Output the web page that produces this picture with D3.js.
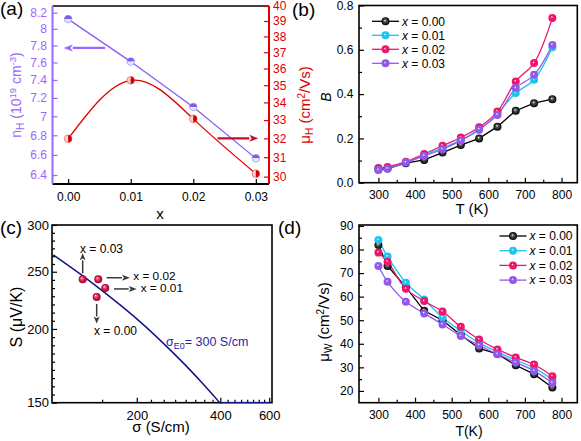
<!DOCTYPE html>
<html><head><meta charset="utf-8">
<script src="https://cdn.jsdelivr.net/npm/d3@7"></script>
<style>body{margin:0;background:#fff;} svg text{font-family:'Liberation Sans',Arial,sans-serif;}</style>
</head><body><svg id="c" width="581" height="441"></svg>
<script>
// ---------- DATA ----------
// (a)
const xA = [0.00, 0.01, 0.02, 0.03];
const nH = [8.12, 7.61, 7.10, 6.565];
const muH = [31.98, 35.29, 33.07, 30.15];
const xTicksA = [0, 0.01, 0.02, 0.03];
const nTicks = [6.4, 6.6, 6.8, 7, 7.2, 7.4, 7.6, 7.8, 8, 8.2];
const muTicks = [30, 31, 32, 33, 34, 35, 36, 37, 38, 39, 40];
// (b), (d)
const T = [300, 325, 375, 425, 475, 525, 575, 625, 675, 725, 775];
const seriesLabels = ["0.00", "0.01", "0.02", "0.03"];
const B00 = [0.060, 0.064, 0.088, 0.103, 0.136, 0.170, 0.200, 0.253, 0.325, 0.359, 0.377];
const B01 = [0.065, 0.068, 0.092, 0.124, 0.157, 0.192, 0.238, 0.312, 0.405, 0.465, 0.612];
const B02 = [0.066, 0.071, 0.095, 0.130, 0.167, 0.204, 0.250, 0.321, 0.457, 0.540, 0.744];
const B03 = [0.057, 0.063, 0.091, 0.121, 0.151, 0.190, 0.241, 0.306, 0.427, 0.487, 0.622];
const MU00 = [81.9, 73.0, 64.0, 54.0, 50.0, 43.7, 38.0, 35.7, 30.9, 27.1, 21.45];
const MU01 = [84.0, 77.0, 65.9, 58.8, 51.2, 45.5, 40.4, 36.6, 33.05, 29.8, 24.85];
const MU02 = [78.7, 74.8, 63.3, 58.1, 53.7, 47.2, 41.8, 37.6, 34.2, 31.2, 26.25];
const MU03 = [73.0, 66.3, 57.8, 52.9, 48.2, 43.3, 39.4, 35.6, 32.1, 28.5, 23.4];
const tTicks = [300, 400, 500, 600, 700, 800];
const tMinor = [350, 450, 550, 650, 750];
const bTicks = [0.0, 0.2, 0.4, 0.6, 0.8];
const bMinor = [0.1, 0.3, 0.5, 0.7];
const muTicksD = [20, 30, 40, 50, 60, 70, 80, 90];
const muMinorD = [25, 35, 45, 55, 65, 75, 85];
// (c)
const sigmaCurve = [100, 125, 150, 175, 200, 250, 300, 350, 400, 500, 600];
const Scurve = [267.1, 247.9, 232.2, 219.2, 208.0, 188.9, 173.5, 160.6, 149.6, 131.5, 117.1];
const ptLabels = ["x = 0.00", "x = 0.01", "x = 0.02", "x = 0.03"];
const sigmaPts = [143.4, 154.0, 145.3, 127.7];
const Spts = [226.6, 234.7, 242.7, 242.7];
const sigTicks = [200, 400, 600];
const sigMinor = [150, 225, 250, 275, 300, 325, 350, 375, 425, 450, 475, 500, 525, 550, 575];
const sTicks = [150, 200, 250, 300];

// ---------- SETUP ----------
const svg = d3.select("#c");
svg.append("rect").attr("width", 581).attr("height", 441).attr("fill", "#fff");
const defs = svg.append("defs");
const colors = ["#000000", "#1ec3f0", "#f0146c", "#9457eb"];
const VIO = "#9a66ff", RED = "#e00000";

colors.forEach((c, i) => {
  const g = defs.append("radialGradient").attr("id", "mk" + i)
    .attr("cx", "50%").attr("cy", "50%").attr("r", "50%").attr("fx", "42%").attr("fy", "38%");
  g.append("stop").attr("offset", "0%").attr("stop-color", "#fff");
  g.append("stop").attr("offset", "32%").attr("stop-color", i === 0 ? "#555" : c);
  g.append("stop").attr("offset", "100%").attr("stop-color", c);
});
const sg = defs.append("radialGradient").attr("id", "sph")
  .attr("cx", "50%").attr("cy", "50%").attr("r", "50%").attr("fx", "35%").attr("fy", "32%");
sg.append("stop").attr("offset", "0%").attr("stop-color", "#ffffff");
sg.append("stop").attr("offset", "25%").attr("stop-color", "#f2608e");
sg.append("stop").attr("offset", "65%").attr("stop-color", "#d0104a");
sg.append("stop").attr("offset", "100%").attr("stop-color", "#8c0a30");

function styleAxis(g, color, fs) {
  g.select(".domain").remove();
  g.selectAll(".tick line").attr("stroke", color).attr("stroke-width", 1.2);
  g.selectAll(".tick text").attr("fill", color).attr("font-size", fs)
    .attr("font-family", "'Liberation Sans',Arial,sans-serif");
}
function frame(P, color) {
  svg.append("rect").attr("x", P.l).attr("y", P.t).attr("width", P.r - P.l).attr("height", P.b - P.t)
    .attr("fill", "none").attr("stroke", color || "#000").attr("stroke-width", 1.6);
}
function arrow(x1, y1, x2, y2, color, w, hl, hw) {
  const a = Math.atan2(y2 - y1, x2 - x1);
  const bx = x2 - hl * Math.cos(a), by = y2 - hl * Math.sin(a);
  svg.append("line").attr("x1", x1).attr("y1", y1).attr("x2", bx).attr("y2", by)
    .attr("stroke", color).attr("stroke-width", w);
  const px = -Math.sin(a) * hw, py = Math.cos(a) * hw;
  svg.append("path").attr("d", `M${x2},${y2}L${bx + px},${by + py}L${bx + hl * 0.25 * Math.cos(a)},${by + hl * 0.25 * Math.sin(a)}L${bx - px},${by - py}Z`)
    .attr("fill", color);
}
function label(x, y, t, fs) {
  svg.append("text").attr("x", x).attr("y", y).attr("font-size", fs || 19).text(t);
}

// ---------- PANEL (a) ----------
const A = { l: 52.5, r: 269, t: 6, b: 184 };
const xa = d3.scaleLinear().domain([-0.0025, 0.0321]).range([A.l, A.r]);
const ya = d3.scaleLog().domain([6.313, 8.284]).range([A.b, A.t]);
const yr = d3.scaleLog().domain([29.63, 40]).range([A.b, A.t]);

svg.append("line").attr("x1", A.l).attr("x2", A.r).attr("y1", A.t).attr("y2", A.t).attr("stroke", "#000").attr("stroke-width", 1.6);
svg.append("line").attr("x1", A.l).attr("x2", A.r).attr("y1", A.b).attr("y2", A.b).attr("stroke", "#000").attr("stroke-width", 1.8);
svg.append("line").attr("x1", A.l).attr("x2", A.l).attr("y1", A.t).attr("y2", A.b).attr("stroke", VIO).attr("stroke-width", 2);
svg.append("line").attr("x1", A.r).attr("x2", A.r).attr("y1", A.t).attr("y2", A.b).attr("stroke", RED).attr("stroke-width", 2);

svg.append("g").attr("transform", `translate(0,${A.b})`)
  .call(d3.axisBottom(xa).tickValues(xTicksA).tickFormat(d3.format(".2f")).tickSize(-5).tickPadding(8.5))
  .call(g => styleAxis(g, "#000", 12));
svg.append("g").attr("transform", `translate(${A.l},0)`)
  .call(d3.axisLeft(ya).tickValues(nTicks).tickFormat(d => String(+d.toFixed(1))).tickSize(-5).tickPadding(5.5))
  .call(g => styleAxis(g, VIO, 12));
svg.append("g").attr("transform", `translate(${A.r},0)`)
  .call(d3.axisRight(yr).tickValues(muTicks).tickFormat(d => String(d)).tickSize(-5).tickPadding(4))
  .call(g => styleAxis(g, RED, 12));

svg.append("path").datum(xA.map((x, i) => [x, nH[i]]))
  .attr("d", d3.line().x(d => xa(d[0])).y(d => ya(d[1])))
  .attr("fill", "none").attr("stroke", "#8a5cf5").attr("stroke-width", 1.3);
svg.append("path").datum(xA.map((x, i) => [x, muH[i]]))
  .attr("d", d3.line().curve(d3.curveNatural).x(d => xa(d[0])).y(d => yr(d[1])))
  .attr("fill", "none").attr("stroke", "#dd0000").attr("stroke-width", 1.3);

const r0 = 3.8;
xA.forEach((x, i) => {
  const g = svg.append("g").attr("transform", `translate(${xa(x)},${ya(nH[i])})`);
  g.append("path").attr("d", `M${-r0},0A${r0},${r0} 0 0 1 ${r0},0Z`).attr("fill", "#8a55ee");
  g.append("path").attr("d", `M${-r0},0A${r0},${r0} 0 0 0 ${r0},0Z`).attr("fill", "#c8f2ff");
  g.append("circle").attr("r", r0).attr("fill", "none").attr("stroke", "#9d7af0").attr("stroke-width", 0.6);
  const h = svg.append("g").attr("transform", `translate(${xa(x)},${yr(muH[i])})`);
  h.append("path").attr("d", `M0,${-r0}A${r0},${r0} 0 0 0 0,${r0}Z`).attr("fill", "#fbd0d0");
  h.append("path").attr("d", `M0,${-r0}A${r0},${r0} 0 0 1 0,${r0}Z`).attr("fill", "#d00000");
  h.append("circle").attr("r", r0).attr("fill", "none").attr("stroke", "#e04040").attr("stroke-width", 0.6);
});
arrow(xa(0.0059), ya(7.77), xa(-0.0007), ya(7.77), "#9966ff", 2.2, 9, 3.5);
arrow(xa(0.0239), yr(32.0), xa(0.0304), yr(32.0), "#c0102a", 2.2, 9, 3.5);

// titles (a)
svg.append("text").attr("x", 160).attr("y", 219).attr("text-anchor", "middle").attr("font-size", 15).text("x");
{
  const t = svg.append("text").attr("transform", "translate(21,95) rotate(-90)").attr("text-anchor", "middle")
    .attr("font-size", 14).attr("fill", VIO);
  t.append("tspan").text("n");
  t.append("tspan").attr("font-size", 10).attr("dy", 3).text("H");
  t.append("tspan").attr("dy", -3).text(" (10");
  t.append("tspan").attr("font-size", 9.5).attr("dy", -5).text("19");
  t.append("tspan").attr("dy", 5).text(" cm");
  t.append("tspan").attr("font-size", 9.5).attr("dy", -5).text("-3");
  t.append("tspan").attr("dy", 5).text(")");
}
{
  const t = svg.append("text").attr("transform", "translate(310,105) rotate(-90)").attr("text-anchor", "middle")
    .attr("font-size", 15).attr("fill", RED);
  t.append("tspan").text("\u03bc");
  t.append("tspan").attr("font-size", 10).attr("dy", 3).text("H");
  t.append("tspan").attr("dy", -3).text(" (cm");
  t.append("tspan").attr("font-size", 10).attr("dy", -5).text("2");
  t.append("tspan").attr("dy", 5).text("/Vs)");
}
label(0, 15, "(a)");

// ---------- PANELS (b) and (d) ----------
function tPanel(P, yScale, yT, yM, yFmt, series, legendX, legendY, legendDy) {
  const x = d3.scaleLinear().domain([247, 843]).range([P.l, P.r]);
  svg.append("g").attr("transform", `translate(0,${P.b})`)
    .call(d3.axisBottom(x).tickValues(tTicks).tickSize(-5).tickPadding(7.3)).call(g => styleAxis(g, "#000", 12));
  svg.append("g").attr("transform", `translate(0,${P.b})`)
    .call(d3.axisBottom(x).tickValues(tMinor).tickSize(-3).tickFormat("")).call(g => styleAxis(g, "#000", 12));
  svg.append("g").attr("transform", `translate(${P.l},0)`)
    .call(d3.axisLeft(yScale).tickValues(yT).tickFormat(yFmt).tickSize(-5).tickPadding(5.7)).call(g => styleAxis(g, "#000", 12));
  svg.append("g").attr("transform", `translate(${P.l},0)`)
    .call(d3.axisLeft(yScale).tickValues(yM).tickSize(-3).tickFormat("")).call(g => styleAxis(g, "#000", 12));
  frame(P);
  series.forEach((s, i) => {
    const line = d3.line().x((d, j) => x(T[j])).y(d => yScale(d));
    if (i !== 0) line.curve(d3.curveCatmullRom.alpha(0.5));
    svg.append("path").datum(s).attr("d", line).attr("fill", "none").attr("stroke", colors[i]).attr("stroke-width", 1.3);
  });
  series.forEach((s, i) => {
    svg.append("g").selectAll("circle").data(s).join("circle")
      .attr("cx", (d, j) => x(T[j])).attr("cy", d => yScale(d)).attr("r", 4)
      .attr("fill", `url(#mk${i})`);
  });
  // legend
  seriesLabels.forEach((lab, i) => {
    const yy = legendY + i * legendDy;
    svg.append("line").attr("x1", legendX).attr("x2", legendX + 27).attr("y1", yy).attr("y2", yy)
      .attr("stroke", colors[i]).attr("stroke-width", 1.3);
    svg.append("circle").attr("cx", legendX + 13.5).attr("cy", yy).attr("r", 4).attr("fill", `url(#mk${i})`);
    const t = svg.append("text").attr("x", legendX + 30).attr("y", yy + 4.3).attr("font-size", 12);
    t.append("tspan").attr("font-style", "italic").text("x");
    t.append("tspan").text(" = " + lab);
  });
  return x;
}

const Bp = { l: 359, r: 577.3, t: 5.5, b: 182.7 };
const yb = d3.scaleLinear().domain([0, 0.8]).range([Bp.b, Bp.t]);
tPanel(Bp, yb, bTicks, bMinor, d3.format(".1f"), [B00, B01, B02, B03], 372, 21.3, 14);
svg.append("text").attr("transform", "translate(331,97) rotate(-90)").attr("text-anchor", "middle")
  .attr("font-size", 14).attr("font-style", "italic").text("B");
svg.append("text").attr("x", 472).attr("y", 214).attr("text-anchor", "middle").attr("font-size", 15).text("T (K)");
label(292, 16, "(b)");

const Dp = { l: 359, r: 577.3, t: 225, b: 402.7 };
const yd = d3.scaleLinear().domain([15, 90.4]).range([Dp.b, Dp.t]);
tPanel(Dp, yd, muTicksD, muMinorD, d3.format("d"), [MU00, MU01, MU02, MU03], 499.5, 236, 14.7);
{
  const t = svg.append("text").attr("transform", "translate(329,322) rotate(-90)").attr("text-anchor", "middle")
    .attr("font-size", 15);
  t.append("tspan").text("\u03bc");
  t.append("tspan").attr("font-size", 10).attr("dy", 3).text("W");
  t.append("tspan").attr("dy", -3).text(" (cm");
  t.append("tspan").attr("font-size", 10).attr("dy", -5).text("2");
  t.append("tspan").attr("dy", 5).text("/Vs)");
}
svg.append("text").attr("x", 469).attr("y", 436).attr("text-anchor", "middle").attr("font-size", 14).text("T(K)");
label(278, 234, "(d)");

// ---------- PANEL (c) ----------
const Cp = { l: 52, r: 272, t: 225, b: 402.7 };
const xc = d3.scaleLog().domain([99, 614]).range([Cp.l, Cp.r]);
const yc = d3.scaleLog().domain([150, 300]).range([Cp.b, Cp.t]);
const ycClamp = yc.copy().clamp(true);
// minor y ticks evenly subdividing each major interval (in log space)
const sMinor = [];
[[150, 200, 9], [200, 250, 7], [250, 300, 6]].forEach(([a, b, n]) => {
  for (let k = 1; k < n; k++) sMinor.push(a * Math.pow(b / a, k / n));
});
svg.append("g").attr("transform", `translate(0,${Cp.b})`)
  .call(d3.axisBottom(xc).tickValues(sigTicks).tickFormat(d3.format("d")).tickSize(-5).tickPadding(7.6)).call(g => styleAxis(g, "#000", 13));
svg.append("g").attr("transform", `translate(0,${Cp.b})`)
  .call(d3.axisBottom(xc).tickValues(sigMinor).tickSize(-3).tickFormat("")).call(g => styleAxis(g, "#000", 13));
svg.append("g").attr("transform", `translate(${Cp.l},0)`)
  .call(d3.axisLeft(yc).tickValues(sTicks).tickFormat(d3.format("d")).tickSize(-5).tickPadding(3)).call(g => styleAxis(g, "#000", 13));
svg.append("g").attr("transform", `translate(${Cp.l},0)`)
  .call(d3.axisLeft(yc).tickValues(sMinor).tickSize(-3).tickFormat("")).call(g => styleAxis(g, "#000", 13));
frame(Cp);
defs.append("clipPath").attr("id", "clipC").append("rect")
  .attr("x", Cp.l).attr("y", Cp.t).attr("width", Cp.r - Cp.l).attr("height", Cp.b - Cp.t + 0.8);
const curveData = sigmaCurve.map((s, i) => [s, Scurve[i]]);
svg.append("path").datum(curveData).attr("clip-path", "url(#clipC)")
  .attr("d", d3.line().curve(d3.curveMonotoneX).x(d => xc(d[0])).y(d => yc(d[1])))
  .attr("fill", "none").attr("stroke", "#12128a").attr("stroke-width", 1.5);
// part of the curve below the axis range, pinned at the bottom edge
svg.append("path").datum(curveData.filter(d => d[1] < 150)).attr("clip-path", "url(#clipC)")
  .attr("d", d3.line().x(d => xc(d[0])).y(d => ycClamp(d[1])))
  .attr("fill", "none").attr("stroke", "#12128a").attr("stroke-width", 1.2);
{
  const t = svg.append("text").attr("x", 166).attr("y", 346).attr("font-size", 12.5).attr("fill", "#2626a6");
  t.append("tspan").text("\u03c3");
  t.append("tspan").attr("font-size", 9).attr("dy", 3).text("E0");
  t.append("tspan").attr("dy", -3).text("= 300 S/cm");
}
sigmaPts.forEach((s, i) => {
  svg.append("circle").attr("cx", xc(s)).attr("cy", yc(Spts[i])).attr("r", 4).attr("fill", "url(#sph)");
});
const AC = "#3a3a3a";
{
  // x = 0.00 : down arrow
  let px = xc(sigmaPts[0]), py = yc(Spts[0]);
  arrow(px, py + 7, px, py + 26.5, AC, 1.5, 7, 3);
  svg.append("text").attr("x", px - 2.7).attr("y", py + 38).attr("font-size", 12).text(ptLabels[0]);
  // x = 0.01 : right arrow
  px = xc(sigmaPts[1]); py = yc(Spts[1]);
  arrow(px + 8.7, py + 1, px + 31.4, py + 1, AC, 1.5, 8, 3);
  svg.append("text").attr("x", px + 35.4).attr("y", py + 4.3).attr("font-size", 11.8).text(ptLabels[1]);
  // x = 0.02 : right arrow
  px = xc(sigmaPts[2]); py = yc(Spts[2]);
  arrow(px + 8.4, py - 1.6, px + 31.7, py - 1.6, AC, 1.5, 8, 3);
  svg.append("text").attr("x", px + 35).attr("y", py + 1.0).attr("font-size", 11.8).text(ptLabels[2]);
  // x = 0.03 : up arrow
  px = xc(sigmaPts[3]); py = yc(Spts[3]);
  arrow(px, py - 6, px, py - 26, AC, 1.5, 7, 3);
  svg.append("text").attr("x", px - 2.7).attr("y", py - 26).attr("font-size", 12).text(ptLabels[3]);
}
svg.append("text").attr("transform", "translate(22,317) rotate(-90)").attr("text-anchor", "middle")
  .attr("font-size", 16).text("S (\u03bcV/K)");
svg.append("text").attr("x", 161).attr("y", 432).attr("text-anchor", "middle").attr("font-size", 15).text("\u03c3 (S/cm)");
label(0, 234, "(c)");
</script></body></html>
